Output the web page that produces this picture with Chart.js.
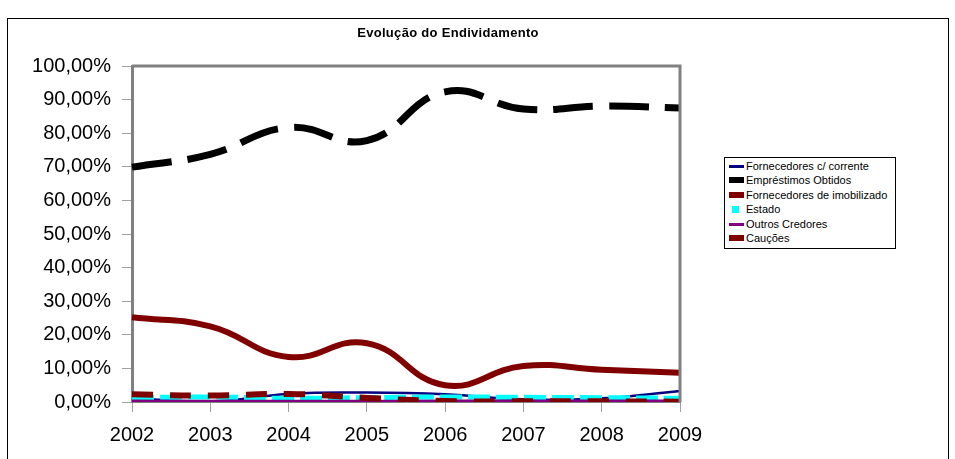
<!DOCTYPE html>
<html>
<head>
<meta charset="utf-8">
<script src="https://cdn.jsdelivr.net/npm/chart.js@4"></script>
<style>
  body { margin: 0; background: #fff; font-family: "Liberation Sans", Arial, sans-serif; }
  #wrap { position: relative; width: 955px; height: 459px; overflow: hidden; }
  #frame { position: absolute; left: 7px; top: 18px; width: 940px; height: 460px; border: 1px solid #000; }
  #title { position: absolute; left: 300px; width: 296px; top: 25px; text-align: center;
           font-weight: bold; font-size: 13px; letter-spacing: 0.3px; color: #000; }
  #legend { position: absolute; left: 724px; top: 157px; width: 170px; height: 90px;
            border: 1px solid #000; background: #fff; font-size: 11px; color: #000; }
  .item { position: absolute; left: 4px; height: 14px; line-height: 14px; white-space: nowrap; }
  .mark { position: absolute; left: 0; width: 15px; }
  .txt { position: absolute; left: 17px; top: 0; }
  canvas { position: absolute; left: 0; top: 0; }
</style>
</head>
<body>
<div id="wrap">
  <div id="frame"></div>
  <canvas id="chart" width="955" height="459"></canvas>
  <div id="title">Evolução do Endividamento</div>
  <div id="legend"></div>
</div>
<script>
const years = ['2002', '2003', '2004', '2005', '2006', '2007', '2008', '2009'];
const yTicks = [0, 10, 20, 30, 40, 50, 60, 70, 80, 90, 100];

// valores em %
const fornCorrente = [1.1, 0.2, 2.4, 2.8, 2.3, 0.8, 1.1, 3.3];
const emprestimos  = [69.9, 73.7, 81.7, 77.8, 92.3, 87.2, 88.1, 87.5];
const fornImob     = [25.2, 22.5, 13.4, 17.5, 5.0, 10.7, 9.6, 8.7];
const estado       = [1.3, 1.5, 1.1, 1.3, 1.5, 1.4, 1.3, 1.1];
const outros       = [0.3, 0.2, 0.2, 0.2, 0.3, 0.3, 0.3, 0.3];
const caucoes      = [2.3, 1.9, 2.4, 1.2, 0.3, 0.2, 0.2, 0.1];

const series = [
  { label: 'Fornecedores c/ corrente',    data: fornCorrente, color: '#000080', width: 2.5, dash: [],       mark: 'line' },
  { label: 'Empréstimos Obtidos',         data: emprestimos,  color: '#000000', width: 7,   dash: [40, 16], mark: 'block' },
  { label: 'Fornecedores de imobilizado', data: fornImob,     color: '#800000', width: 6,   dash: [],       mark: 'block' },
  { label: 'Estado',                      data: estado,       color: '#00FFFF', width: 5,   dash: [22, 6],  mark: 'square' },
  { label: 'Outros Credores',             data: outros,       color: '#800080', width: 3,   dash: [],       mark: 'line' },
  { label: 'Cauções',                     data: caucoes,      color: '#800000', width: 6,   dash: [21, 17], mark: 'block' },
];

const plotBorder = {
  id: 'plotBorder',
  afterDatasetsDraw(chart) {
    const a = chart.chartArea;
    const c = chart.ctx;
    c.save();
    c.strokeStyle = '#808080';
    c.lineWidth = 3;
    c.beginPath();
    c.moveTo(a.left, a.top);
    c.lineTo(a.right, a.top);
    c.lineTo(a.right, a.bottom);
    c.stroke();
    c.restore();
  }
};

new Chart(document.getElementById('chart').getContext('2d'), {
  type: 'line',
  data: {
    labels: years,
    datasets: series.map((s, i) => ({
      label: s.label,
      data: s.data,
      borderColor: s.color,
      backgroundColor: s.color,
      borderWidth: s.width,
      borderDash: s.dash,
      borderCapStyle: 'butt',
      tension: 0.45,
      pointRadius: 0,
      fill: false,
      order: series.length - i,
    }))
  },
  options: {
    responsive: false,
    animation: false,
    layout: { padding: { top: 66, right: 275, bottom: 0, left: 0 } },
    plugins: { legend: { display: false }, title: { display: false }, tooltip: { enabled: false } },
    scales: {
      x: {
        offset: false,
        afterFit(scale) { scale.height = 57; },
        grid: { drawOnChartArea: false, drawTicks: true, tickLength: 10, color: '#a0a0a0', lineWidth: 1 },
        border: { color: '#808080', width: 1 },
        ticks: { color: '#000', padding: 11, maxRotation: 0, font: { family: 'Liberation Sans', size: 20 } }
      },
      y: {
        min: 0,
        max: 100,
        afterFit(scale) { scale.width = 132; },
        afterBuildTicks(scale) { scale.ticks = yTicks.map(v => ({ value: v })); },
        grid: { drawOnChartArea: false, drawTicks: true, tickLength: 10, color: '#a0a0a0', lineWidth: 1 },
        border: { color: '#808080', width: 3 },
        ticks: {
          color: '#000', padding: 11,
          font: { family: 'Liberation Sans', size: 20 },
          callback: v => v.toFixed(2).replace('.', ',') + '%'
        }
      }
    }
  },
  plugins: [plotBorder]
});

// legenda
const legend = document.getElementById('legend');
series.forEach((s, i) => {
  const item = document.createElement('div');
  item.className = 'item';
  item.style.top = (1 + i * 14.4) + 'px';
  const m = document.createElement('div');
  m.className = 'mark';
  m.style.background = s.color;
  if (s.mark === 'line') { m.style.top = '6px'; m.style.height = '3px'; }
  else if (s.mark === 'block') { m.style.top = '4px'; m.style.height = '6px'; }
  else { m.style.left = '3px'; m.style.width = '7px'; m.style.top = '4px'; m.style.height = '7px'; }
  const t = document.createElement('span');
  t.className = 'txt';
  t.textContent = s.label;
  item.appendChild(m);
  item.appendChild(t);
  legend.appendChild(item);
});
</script>
</body>
</html>
